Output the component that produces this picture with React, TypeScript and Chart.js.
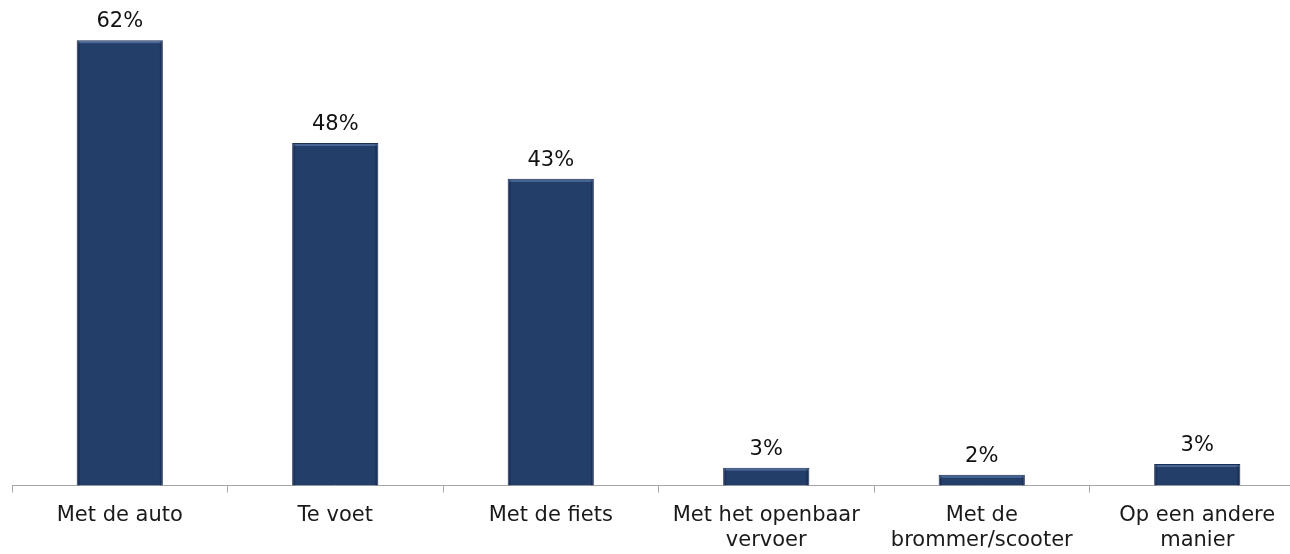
import React, { useEffect, useRef } from "react";
import { Chart, registerables } from "chart.js";

Chart.register(...registerables);

const categories: (string | string[])[] = [
  "Met de auto",
  "Te voet",
  "Met de fiets",
  ["Met het openbaar", "vervoer"],
  ["Met de", "brommer/scooter"],
  ["Op een andere", "manier"],
];
const values: number[] = [62.0, 47.7, 42.7, 2.5, 1.5, 3.0];
const yMax = 67.6;

const FONT = "'DejaVu Sans', Verdana, sans-serif";

const valueLabelPlugin = {
  id: "valueLabels",
  afterDatasetsDraw(chart: any) {
    const ctx = chart.ctx;
    const meta = chart.getDatasetMeta(0);
    ctx.save();
    meta.data.forEach((bar: any, i: number) => {
      const { x, y, width, base } = bar.getProps(["x", "y", "width", "base"], true);
      const left = x - width / 2;
      const h = base - y;
      // bevel highlights
      ctx.fillStyle = "rgba(120,150,200,0.45)";
      ctx.fillRect(left + 1, y + 1, width - 2, Math.min(2, h - 1));
      ctx.fillStyle = "rgba(10,20,45,0.3)";
      ctx.fillRect(left + 1, y + 1, 2, h - 1);
      ctx.fillRect(left + width - 3, y + 1, 2, h - 1);
      // label
      ctx.fillStyle = "#111111";
      ctx.font = `21px ${FONT}`;
      ctx.textAlign = "center";
      ctx.textBaseline = "alphabetic";
      ctx.fillText(`${Math.round(values[i])}%`, x, y - 13);
    });
    ctx.restore();
  },
};

export default function App() {
  const ref = useRef<HTMLCanvasElement | null>(null);
  useEffect(() => {
    if (!ref.current) return;
    const chart = new Chart(ref.current, {
      type: "bar",
      data: {
        labels: categories,
        datasets: [
          {
            data: values,
            backgroundColor: "#243e6a",
            borderColor: "#1b2f54",
            borderWidth: 1,
            barPercentage: 0.4,
            categoryPercentage: 1,
          },
        ],
      },
      options: {
        responsive: false,
        animation: false,
        devicePixelRatio: 1,
        layout: { padding: { left: 12, right: 0, top: 0, bottom: 0 } },
        plugins: {
          legend: { display: false },
          tooltip: { enabled: false },
        },
        scales: {
          x: {
            offset: true,
            grid: {
              display: true,
              offset: true,
              drawOnChartArea: false,
              drawTicks: true,
              tickLength: 7,
              color: "#a6a6a6",
            },
            border: { display: true, color: "#a6a6a6", width: 1 },
            ticks: {
              color: "#1a1a1a",
              font: { family: FONT, size: 21, lineHeight: 1.2 },
              padding: 10,
              maxRotation: 0,
              minRotation: 0,
              autoSkip: false,
            },
          },
          y: {
            display: false,
            min: 0,
            max: yMax,
          },
        },
      },
      plugins: [valueLabelPlugin],
    });
    return () => chart.destroy();
  }, []);

  return (
    <div
      style={{
        position: "absolute",
        top: 0,
        left: 0,
        width: 1290,
        height: 554,
        overflow: "hidden",
        background: "#ffffff",
      }}
    >
      <canvas ref={ref} width={1305} height={563} style={{ display: "block" }} />
    </div>
  );
}
